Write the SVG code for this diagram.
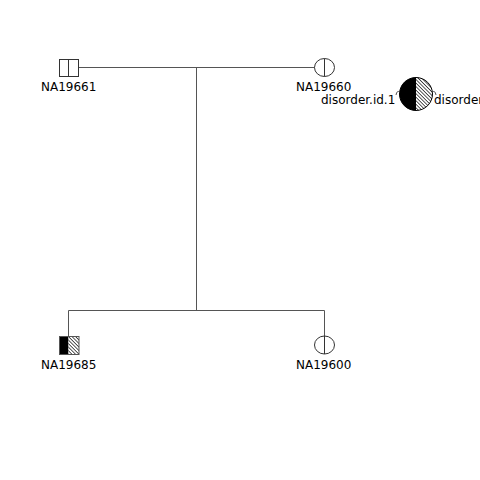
<svg xmlns="http://www.w3.org/2000/svg" width="480" height="480" viewBox="0 0 480 480">
<style>
.line{stroke:#555;stroke-width:1;fill:none}
.shape{stroke:#333;stroke-width:1;fill:#fff}
.lbl{font-family:"DejaVu Sans",sans-serif;font-size:12px;fill:#000}
</style>
<defs>
<pattern id="hatch" width="2.5" height="2.5" patternUnits="userSpaceOnUse" patternTransform="rotate(-45)">
<rect width="2.5" height="2.5" fill="#fff"/>
<line x1="0" y1="0" x2="0" y2="2.5" stroke="#000" stroke-width="1.3"/>
</pattern>
</defs>
<rect width="480" height="480" fill="#fff"/>
<g id="connectors">
<line class="line" x1="79" y1="67.5" x2="315" y2="67.5"/>
<line class="line" x1="196.5" y1="67.5" x2="196.5" y2="310.5"/>
<line class="line" x1="68.5" y1="310.5" x2="324.5" y2="310.5"/>
<line class="line" x1="68.5" y1="310.5" x2="68.5" y2="336"/>
<line class="line" x1="324.5" y1="310.5" x2="324.5" y2="336"/>
</g>
<g id="NA19661">
<rect class="shape" x="59.5" y="59.5" width="19" height="17"/>
<line class="shape" x1="68.5" y1="59.5" x2="68.5" y2="76.5"/>
<text class="lbl" x="41" y="90.5">NA19661</text>
</g>
<g id="NA19660">
<ellipse class="shape" cx="324.5" cy="67.5" rx="10" ry="9"/>
<line class="shape" x1="324.5" y1="58.5" x2="324.5" y2="76.5"/>
<text class="lbl" x="296" y="90.5">NA19660</text>
</g>
<g id="NA19685">
<rect x="59.5" y="336.5" width="9" height="18" fill="#000"/>
<rect x="68.5" y="336.5" width="10.5" height="18" fill="url(#hatch)"/>
<rect x="59.5" y="336.5" width="19.5" height="18" fill="none" stroke="#555"/>
<text class="lbl" x="41" y="368.5">NA19685</text>
</g>
<g id="NA19600">
<ellipse class="shape" cx="324.5" cy="345" rx="10" ry="9"/>
<line class="shape" x1="324.5" y1="336" x2="324.5" y2="354"/>
<text class="lbl" x="296" y="368.5">NA19600</text>
</g>
<g id="legend">
<path d="M416,77.5 A16.5,16.5 0 0 0 416,110.5 Z" fill="#000"/>
<path d="M416,77.5 A16.5,16.5 0 0 1 416,110.5 Z" fill="url(#hatch)"/>
<circle cx="416" cy="94" r="16.5" fill="none" stroke="#000" stroke-width="1"/>
<path class="line" d="M396,95 Q397,90 399.5,92"/>
<path class="line" d="M432.5,92 Q435,90 436,95"/>
<text class="lbl" x="321" y="103.5">disorder.id.1</text>
<text class="lbl" x="434" y="103.5">disorder</text>
</g>
</svg>
